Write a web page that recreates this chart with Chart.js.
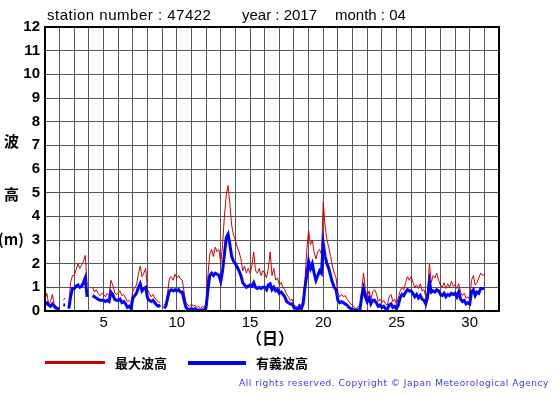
<!DOCTYPE html>
<html>
<head>
<meta charset="utf-8">
<script src="https://cdn.jsdelivr.net/npm/chart.js@4"></script>
<style>
  body { margin: 0; background: #fff; }
  #wrap { position: relative; width: 555px; height: 395px; }
  canvas { position: absolute; left: 0; top: 0; }
  .t { position: absolute; white-space: nowrap; font-family: "Liberation Sans", Arial, sans-serif; color: #000; }
  .jp { position: absolute; white-space: nowrap; font-family: "Noto Sans CJK JP", sans-serif; font-weight: bold; color: #000; }
</style>
</head>
<body>
<div id="wrap">
  <canvas id="waveChart" width="555" height="395"></canvas>
  <div class="t" style="left:47px;top:6px;font-size:15px;letter-spacing:0.5px;">station number : 47422</div>
  <div class="t" style="left:242px;top:6px;font-size:15px;">year : 2017</div>
  <div class="t" style="left:335px;top:6px;font-size:15px;">month : 04</div>
  <div class="jp" style="left:4px;top:130px;font-size:15px;">波</div>
  <div class="jp" style="left:4px;top:183px;font-size:15px;">高</div>
  <div class="jp" style="left:-2px;top:228px;font-size:15px;">(m)</div>
  <div class="jp" style="left:246px;top:325px;font-size:16px;">（日）</div>
  <div style="position:absolute;left:45px;top:361px;width:60px;height:3px;background:#d00000;"></div>
  <div class="jp" style="left:115px;top:353px;font-size:13px;">最大波高</div>
  <div style="position:absolute;left:188px;top:361px;width:58px;height:4px;background:#0000ff;"></div>
  <div class="jp" style="left:256px;top:353px;font-size:13px;">有義波高</div>
  <div class="t" style="right:6px;top:378px;font-size:9px;letter-spacing:0.55px;color:#3838ff;font-family:'DejaVu Sans',sans-serif;">All rights reserved. Copyright © Japan Meteorological Agency</div>
</div>
<script>
// 3-hourly samples from Apr 1 00h to May 1 00h (day 1.0 .. 31.0)
const maxWave = [
  0.5, 0.75, 0.3, 0.4, 0.7, 0.3, 0.2, 0.15,      // 1
  0.15, null, 0.45, 0.55, null, 0.3, 1.2, 1.5,   // 2
  1.5, 1.75, 2.0, 1.8, 1.95, 2.1, 2.35, 1.1,     // 3
  null, null, 1.0, 0.8, 0.9, 0.75, 0.65, 0.75,   // 4
  0.7, 0.6, 0.75, 0.65, 1.3, 1.1, 0.8, 0.7,      // 5
  0.75, 0.85, 0.65, 0.7, 0.55, 0.4, 0.45, 0.35,  // 6
  0.85, 1.0, 1.1, 1.55, 1.9, 1.45, 1.6, 1.8,     // 7
  0.9, 0.75, 0.6, 0.7, 0.55, 0.45, 0.4, 0.35,    // 8
  null, 0.25, 0.35, 0.8, 1.4, 1.45, 1.3, 1.55,   // 9
  1.4, 1.5, 1.35, 1.3, 0.8, 0.35, 0.25, 0.2,     // 10
  0.3, 0.2, 0.25, 0.15, 0.2, 0.1, 0.2, 0.15,     // 11
  0.35, 1.5, 2.4, 2.6, 2.3, 2.7, 2.5, 2.6,       // 12
  2.0, 2.8, 4.0, 4.9, 5.3, 4.5, 3.6, 3.2,        // 13
  3.0, 2.7, 2.5, 2.2, 1.7, 1.9, 1.6, 1.8,        // 14
  1.6, 1.9, 2.5, 1.7, 1.6, 1.8, 1.5, 1.7,        // 15
  1.6, 1.4, 1.8, 2.5, 1.5, 1.8, 1.3, 1.4,        // 16
  1.1, 1.2, 1.0, 0.9, 0.7, 0.6, 0.45, 0.5,       // 17
  0.25, 0.2, 0.15, 0.3, 0.2, 0.5, 1.3, 2.6,      // 18
  3.4, 2.8, 3.0, 2.5, 2.2, 2.5, 2.6, 2.4,        // 19
  4.6, 3.6, 3.0, 2.7, 2.3, 1.9, 1.6, 1.4,        // 20
  0.75, 0.6, 0.7, 0.6, 0.65, 0.5, 0.4, 0.3,      // 21
  0.25, 0.15, 0.1, 0.2, 0.15, 0.9, 1.6, 0.9,     // 22
  0.6, 0.85, 0.5, 0.8, 0.9, 0.75, 0.4, 0.5,      // 23
  0.35, 0.45, 0.3, 0.25, 0.6, 0.7, 0.4, 0.5,     // 24
  0.3, 0.55, 0.85, 1.0, 0.9, 1.2, 1.45, 1.3,     // 25
  1.45, 1.2, 1.0, 1.1, 0.95, 1.15, 0.85, 0.9,    // 26
  0.6, 0.8, 2.0, 1.2, 1.5, 1.4, 1.6, 1.3,        // 27
  1.1, 1.0, 1.2, 0.95, 1.15, 1.0, 1.25, 1.05,    // 28
  1.1, 0.95, 1.15, 0.8, 0.65, 0.75, 0.55, 0.6,   // 29
  0.5, 1.3, 1.5, 1.1, 1.2, 1.4, 1.6, 1.5,        // 30
  1.55
];
const sigWave = [
  0.3, 0.35, 0.25, 0.2, 0.3, 0.2, 0.12, 0.1,     // 1
  0.08, null, 0.25, 0.25, null, 0.1, 0.6, 0.95,  // 2
  0.95, 1.05, 1.1, 1.0, 1.05, 1.2, 1.4, 0.6,     // 3
  null, null, 0.65, 0.6, 0.55, 0.5, 0.45, 0.45,  // 4
  0.45, 0.4, 0.45, 0.4, 0.8, 0.7, 0.5, 0.45,     // 5
  0.45, 0.5, 0.35, 0.4, 0.3, 0.15, 0.2, 0.1,     // 6
  0.55, 0.65, 0.75, 1.0, 1.15, 0.85, 0.95, 1.0,  // 7
  0.55, 0.45, 0.4, 0.45, 0.35, 0.25, 0.2, 0.25,  // 8
  null, 0.12, 0.2, 0.55, 0.85, 0.9, 0.85, 0.9,   // 9
  0.85, 0.9, 0.8, 0.8, 0.45, 0.15, 0.08, 0.05,   // 10
  0.1, 0.05, 0.1, 0.02, 0.05, 0.0, 0.05, 0.03,   // 11
  0.15, 0.9, 1.5, 1.6, 1.5, 1.6, 1.55, 1.5,      // 12
  1.25, 1.7, 2.4, 3.1, 3.25, 2.8, 2.3, 2.1,      // 13
  2.0, 1.85, 1.7, 1.5, 1.2, 1.1, 1.0, 1.05,      // 14
  1.1, 1.05, 1.2, 1.0, 0.95, 1.0, 0.95, 1.0,     // 15
  1.0, 0.9, 1.1, 1.15, 0.9, 1.0, 0.85, 0.9,      // 16
  0.75, 0.8, 0.7, 0.6, 0.4, 0.35, 0.3, 0.3,      // 17
  0.15, 0.1, 0.05, 0.2, 0.1, 0.3, 1.0, 1.5,      // 18
  2.1, 1.8, 2.0, 1.6, 1.3, 1.5, 1.7, 1.6,        // 19
  2.85, 2.3, 2.0, 1.8, 1.5, 1.2, 1.0, 0.9,       // 20
  0.45, 0.35, 0.4, 0.35, 0.3, 0.25, 0.15, 0.1,   // 21
  0.08, 0.05, 0.02, 0.05, 0.05, 0.6, 0.95, 0.6,  // 22
  0.4, 0.55, 0.3, 0.45, 0.45, 0.35, 0.2, 0.25,   // 23
  0.15, 0.2, 0.1, 0.08, 0.25, 0.3, 0.15, 0.2,    // 24
  0.1, 0.25, 0.55, 0.7, 0.65, 0.8, 0.9, 0.85,    // 25
  0.85, 0.75, 0.6, 0.7, 0.55, 0.65, 0.5, 0.45,   // 26
  0.3, 0.6, 1.24, 0.8, 0.85, 0.8, 0.9, 0.85,     // 27
  0.7, 0.65, 0.75, 0.6, 0.7, 0.65, 0.75, 0.7,    // 28
  0.75, 0.6, 0.8, 0.5, 0.4, 0.45, 0.3, 0.35,     // 29
  0.3, 0.8, 0.9, 0.65, 0.8, 0.75, 0.95, 0.95,    // 30
  0.95
];
const xTickLabels = [5, 10, 15, 20, 25, 30];
const dayStart = 1;
const samplesPerDay = 8;

const toPoints = (vals) => vals.map((v, i) => ({ x: dayStart + i / samplesPerDay, y: v }));

const frame = {
  id: "frame",
  afterDraw(chart) {
    const { ctx, chartArea: a } = chart;
    ctx.save();
    ctx.strokeStyle = "#000";
    ctx.lineWidth = 2;
    ctx.strokeRect(a.left, a.top, a.right - a.left, a.bottom - a.top);
    ctx.restore();
  }
};

new Chart(document.getElementById("waveChart"), {
  type: "line",
  data: {
    datasets: [
      {
        label: "有義波高",
        data: toPoints(sigWave),
        borderColor: "#0000ff",
        borderWidth: 3,
        pointRadius: 0,
        tension: 0,
        spanGaps: false,
      },
      {
        label: "最大波高",
        data: toPoints(maxWave),
        borderColor: "#d00000",
        borderWidth: 1,
        pointRadius: 0,
        tension: 0,
        spanGaps: false,
      },
    ],
  },
  options: {
    responsive: false,
    animation: false,
    layout: { padding: { top: 27, right: 56, left: 0, bottom: 0 } },
    plugins: { legend: { display: false }, tooltip: { enabled: false } },
    scales: {
      x: {
        type: "linear",
        min: 1,
        max: 32,
        afterFit: (s) => { s.height = 84; },
        afterBuildTicks: (s) => {
          const t = [];
          for (let d = 1; d <= 32; d++) t.push({ value: d });
          s.ticks = t;
        },
        ticks: {
          autoSkip: false,
          maxRotation: 0,
          padding: 3,
          color: "#000",
          font: { family: "Liberation Sans", size: 15 },
          callback: (v) => (xTickLabels.includes(v) ? String(v) : ""),
        },
        grid: { color: "#555", lineWidth: 1, drawTicks: false },
        border: { color: "#000", width: 2 },
      },
      y: {
        min: 0,
        max: 12,
        afterFit: (s) => { s.width = 45; },
        ticks: {
          stepSize: 1,
          padding: 5,
          color: "#000",
          font: { family: "Liberation Sans", size: 15, weight: "bold" },
        },
        grid: { color: "#555", lineWidth: 1, drawTicks: false },
        border: { color: "#000", width: 2 },
      },
    },
  },
  plugins: [frame],
});
</script>
</body>
</html>
